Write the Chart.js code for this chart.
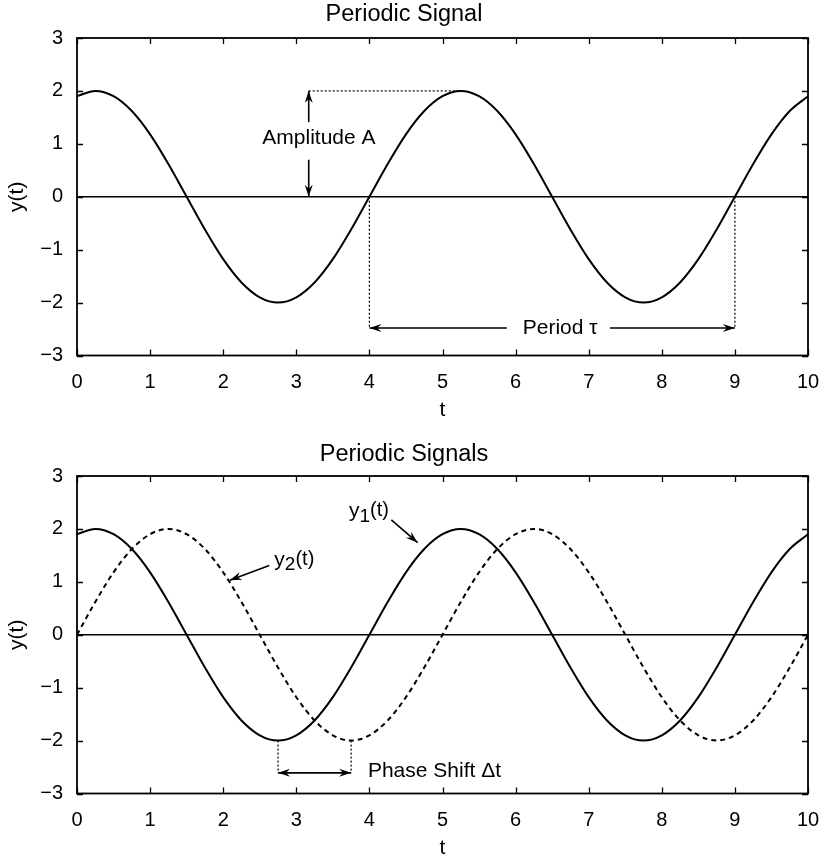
<!DOCTYPE html>
<html>
<head>
<meta charset="utf-8">
<script src="https://cdn.jsdelivr.net/npm/chart.js@4.4.1/dist/chart.umd.min.js"></script>
<style>
  html, body { margin: 0; padding: 0; background: #fff; overflow: hidden; }
  #top { position: absolute; left: 0; top: 0; width: 824px; height: 419px; }
  #bottom { position: absolute; left: 0; top: 419px; width: 824px; height: 438px; }
</style>
</head>
<body>
<div id="top"><canvas id="c1"></canvas></div>
<div id="bottom"><canvas id="c2"></canvas></div>
<script>
// sample times (t) and signal values
const tValues = [0, 0.25, 0.5, 0.75, 1, 1.25, 1.5, 1.75, 2, 2.25, 2.5, 2.75, 3, 3.25, 3.5, 3.75, 4, 4.25, 4.5, 4.75,
  5, 5.25, 5.5, 5.75, 6, 6.25, 6.5, 6.75, 7, 7.25, 7.5, 7.75, 8, 8.25, 8.5, 8.75, 9, 9.25, 9.5, 9.75, 10];
const y1Values = [1.90, 2.00, 1.90, 1.62, 1.18, 0.62, 0, -0.62, -1.18, -1.62, -1.90, -2.00, -1.90, -1.62, -1.18, -0.62,
  0, 0.62, 1.18, 1.62, 1.90, 2.00, 1.90, 1.62, 1.18, 0.62, 0, -0.62, -1.18, -1.62, -1.90, -2.00, -1.90, -1.62, -1.18, -0.62,
  0, 0.62, 1.18, 1.62, 1.90];
const y2Values = [0, 0.62, 1.18, 1.62, 1.90, 2.00, 1.90, 1.62, 1.18, 0.62, 0, -0.62, -1.18, -1.62, -1.90, -2.00,
  -1.90, -1.62, -1.18, -0.62, 0, 0.62, 1.18, 1.62, 1.90, 2.00, 1.90, 1.62, 1.18, 0.62, 0, -0.62, -1.18, -1.62, -1.90, -2.00,
  -1.90, -1.62, -1.18, -0.62, 0];
const zeroT = [0, 10];
const zeroY = [0, 0];

const xTicks = [0, 1, 2, 3, 4, 5, 6, 7, 8, 9, 10];
const yTicks = [-3, -2, -1, 0, 1, 2, 3];
const yTickLabels = ['\u22123', '\u22122', '\u22121', '0', '1', '2', '3'];

const FONT = "'Liberation Sans', Arial, Helvetica, sans-serif";

function pts(xs, ys) {
  return xs.map((x, i) => ({ x: x, y: ys[i] }));
}

// box round the plot, with inward tick marks on all four sides
const frame = {
  id: 'frame',
  afterDraw(chart) {
    const { ctx, chartArea: { left, right, top, bottom }, scales: { x, y } } = chart;
    ctx.save();
    ctx.strokeStyle = '#000';
    ctx.lineWidth = 1.3;
    ctx.beginPath();
    xTicks.forEach(v => {
      const px = Math.round(x.getPixelForValue(v)) + 0.5;
      ctx.moveTo(px, bottom); ctx.lineTo(px, bottom - 6);
      ctx.moveTo(px, top); ctx.lineTo(px, top + 6);
    });
    yTicks.forEach(v => {
      const py = Math.round(y.getPixelForValue(v)) + 0.5;
      ctx.moveTo(left, py); ctx.lineTo(left + 6, py);
      ctx.moveTo(right, py); ctx.lineTo(right - 6, py);
    });
    ctx.stroke();
    ctx.lineWidth = 1.8;
    ctx.strokeRect(left, top, right - left, bottom - top);
    ctx.restore();
  }
};

function arrowHead(ctx, x0, y0, x1, y1) {
  const a = Math.atan2(y1 - y0, x1 - x0);
  const len = 12, half = 4, notch = 8;
  ctx.save();
  ctx.translate(x1, y1);
  ctx.rotate(a);
  ctx.beginPath();
  ctx.moveTo(0, 0);
  ctx.lineTo(-len, -half);
  ctx.lineTo(-notch, 0);
  ctx.lineTo(-len, half);
  ctx.closePath();
  ctx.fill();
  ctx.restore();
}

// lines, arrows and labels placed in data units (t, y)
const notes = {
  id: 'notes',
  afterDatasetsDraw(chart, args, options) {
    const { ctx, scales: { x, y } } = chart;
    const px = v => x.getPixelForValue(v);
    const py = v => y.getPixelForValue(v);
    ctx.save();
    ctx.strokeStyle = '#000';
    ctx.fillStyle = '#000';
    (options.items || []).forEach(it => {
      if (it.type === 'dots') {
        ctx.lineWidth = 1.2;
        ctx.setLineDash([2, 2]);
        ctx.beginPath();
        ctx.moveTo(px(it.from[0]), py(it.from[1]));
        ctx.lineTo(px(it.to[0]), py(it.to[1]));
        ctx.stroke();
        ctx.setLineDash([]);
      } else if (it.type === 'arrow') {
        const x0 = px(it.from[0]), y0 = py(it.from[1]);
        const x1 = px(it.to[0]), y1 = py(it.to[1]);
        ctx.lineWidth = 1.6;
        ctx.beginPath();
        ctx.moveTo(x0, y0);
        ctx.lineTo(x1, y1);
        ctx.stroke();
        arrowHead(ctx, x0, y0, x1, y1);
        if (it.both) arrowHead(ctx, x1, y1, x0, y0);
      } else if (it.type === 'text') {
        ctx.font = '21px ' + FONT;
        ctx.textAlign = it.align || 'center';
        ctx.textBaseline = 'middle';
        ctx.fillText(it.text, px(it.at[0]), py(it.at[1]));
      } else if (it.type === 'sub') {
        // y with a lowered index, then (t)
        let cx = px(it.at[0]);
        const cy = py(it.at[1]);
        ctx.textAlign = 'left';
        ctx.textBaseline = 'middle';
        ctx.font = '21px ' + FONT;
        ctx.fillText(it.base, cx, cy);
        cx += ctx.measureText(it.base).width;
        ctx.font = '19px ' + FONT;
        ctx.fillText(it.index, cx, cy + 5);
        cx += ctx.measureText(it.index).width;
        ctx.font = '20px ' + FONT;
        ctx.fillText(it.rest, cx, cy - 1);
      }
    });
    ctx.restore();
  }
};

function makeOptions(title, padTop, titlePad, items) {
  return {
    responsive: true,
    maintainAspectRatio: false,
    animation: false,
    layout: { padding: { top: padTop, right: 16, left: 0, bottom: 0 } },
    elements: { point: { radius: 0 } },
    plugins: {
      legend: { display: false },
      tooltip: { enabled: false },
      title: {
        display: true,
        text: title,
        color: '#000',
        font: { family: FONT, size: 23.5, weight: 'normal', lineHeight: 1 },
        padding: titlePad
      },
      notes: { items: items }
    },
    scales: {
      x: {
        type: 'linear',
        min: 0,
        max: 10,
        afterBuildTicks: s => { s.ticks = xTicks.map(v => ({ value: v })); },
        afterFit: s => { s.height = 63.5; s.paddingLeft = 0; s.paddingRight = 0; },
        grid: { display: false, drawTicks: false },
        border: { display: false },
        ticks: { color: '#000', padding: 15, font: { family: FONT, size: 20 } },
        title: {
          display: true,
          text: 't',
          color: '#000',
          font: { family: FONT, size: 21, lineHeight: 1 },
          padding: { top: 0, bottom: -2 }
        }
      },
      y: {
        min: -3,
        max: 3,
        afterBuildTicks: s => { s.ticks = yTicks.map(v => ({ value: v })); },
        afterFit: s => { s.width = 77; },
        grid: { display: false, drawTicks: false },
        border: { display: false },
        ticks: {
          color: '#000',
          padding: 14,
          font: { family: FONT, size: 20 },
          callback: v => yTickLabels[yTicks.indexOf(v)]
        },
        title: {
          display: true,
          text: 'y(t)',
          color: '#000',
          font: { family: FONT, size: 21, lineHeight: 1 },
          padding: { top: 7, bottom: 0 }
        }
      }
    }
  };
}

const topNotes = [
  { type: 'dots', from: [3.17, 2], to: [5.22, 2] },
  { type: 'dots', from: [4, 0], to: [4, -2.48] },
  { type: 'dots', from: [9, 0], to: [9, -2.48] },
  { type: 'arrow', from: [3.17, 1.41], to: [3.17, 2] },
  { type: 'arrow', from: [3.17, 0.7], to: [3.17, 0] },
  { type: 'text', text: 'Amplitude A', at: [3.31, 1.1] },
  { type: 'arrow', from: [5.88, -2.48], to: [4, -2.48] },
  { type: 'arrow', from: [7.29, -2.48], to: [9, -2.48] },
  { type: 'text', text: 'Period \u03c4', at: [6.61, -2.48] }
];

const bottomNotes = [
  { type: 'dots', from: [2.75, -2], to: [2.75, -2.61] },
  { type: 'dots', from: [3.75, -2], to: [3.75, -2.61] },
  { type: 'arrow', from: [2.75, -2.61], to: [3.75, -2.61], both: true },
  { type: 'text', text: 'Phase Shift \u0394t', at: [3.98, -2.58], align: 'left' },
  { type: 'arrow', from: [4.30, 2.17], to: [4.66, 1.74] },
  { type: 'sub', base: 'y', index: '1', rest: '(t)', at: [3.72, 2.33] },
  { type: 'arrow', from: [2.63, 1.31], to: [2.09, 1.03] },
  { type: 'sub', base: 'y', index: '2', rest: '(t)', at: [2.70, 1.41] }
];

const solid = (data, w) => ({
  data: data,
  borderColor: '#000',
  borderWidth: w,
  cubicInterpolationMode: 'monotone',
  fill: false
});

new Chart(document.getElementById('c1'), {
  type: 'line',
  data: {
    datasets: [
      solid(pts(zeroT, zeroY), 1.5),
      solid(pts(tValues, y1Values), 2)
    ]
  },
  options: makeOptions('Periodic Signal', 0, { top: 3.25, bottom: 11.25 }, topNotes),
  plugins: [frame, notes]
});

new Chart(document.getElementById('c2'), {
  type: 'line',
  data: {
    datasets: [
      solid(pts(zeroT, zeroY), 1.5),
      solid(pts(tValues, y1Values), 2),
      Object.assign(solid(pts(tValues, y2Values), 2), { borderDash: [5, 4] })
    ]
  },
  options: makeOptions('Periodic Signals', 19, { top: 5.25, bottom: 9.25 }, bottomNotes),
  plugins: [frame, notes]
});
</script>
</body>
</html>
